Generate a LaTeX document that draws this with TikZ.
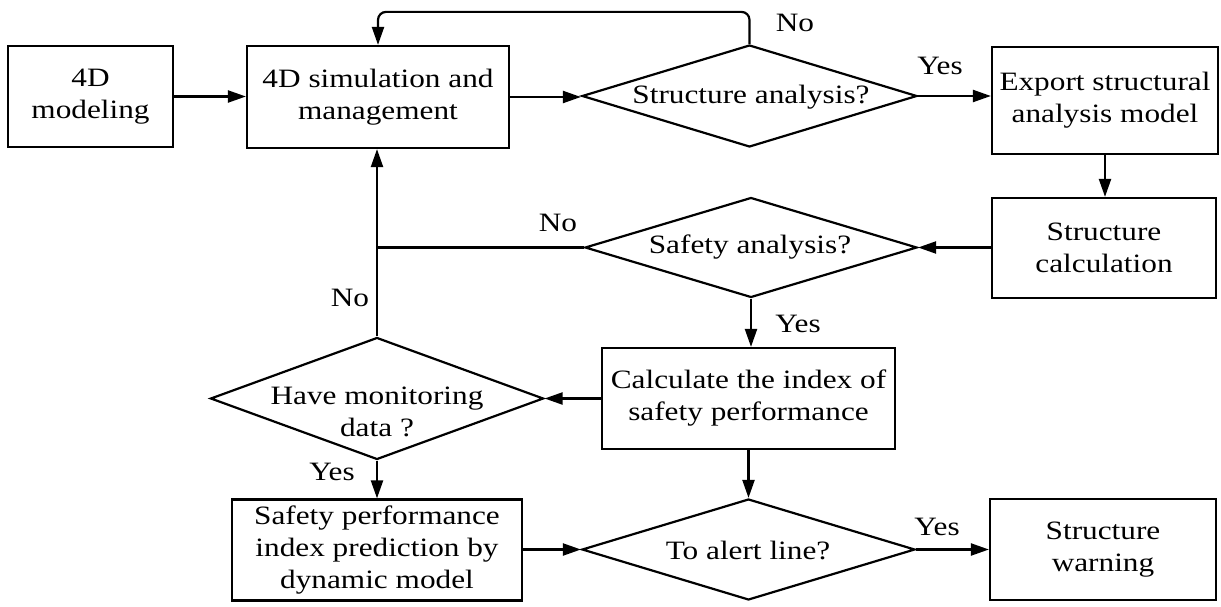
\documentclass[tikz,border=0pt]{standalone}
\usepackage{fontspec}
\setmainfont{Liberation Serif}[FakeStretch=1.18]
\usetikzlibrary{shapes.geometric,arrows.meta,calc}
\begin{document}
\begin{tikzpicture}[x=1pt,y=-1pt,
  every node/.style={font=\fontsize{26.5}{32}\selectfont},
  box/.style={draw,line width=2.2pt,rectangle,inner sep=0pt,align=center},
  dia/.style={draw,line width=2.2pt,diamond,inner sep=0pt},
  arr/.style={line width=2.2pt,-{Triangle[length=18pt,width=12pt]}},
  ln/.style={line width=2.2pt},
  lbl/.style={inner sep=0pt,align=center}]
\useasboundingbox (0,0) rectangle (1221,607);
% boxes and decisions
\node[box,minimum width=165pt,minimum height=101pt] (model) at (90.5,96.5) {4D\\modeling};
\node[box,minimum width=262pt,minimum height=102pt] (sim) at (378,97) {4D simulation and\\management};
\node[dia,minimum width=335pt,minimum height=102pt] (d1) at (749.5,96) {};
\node[lbl] (d1t) at (751,97) {Structure analysis?};
\node[box,minimum width=226pt,minimum height=107pt] (export) at (1105,100.5) {Export structural\\analysis model};
\node[box,minimum width=224pt,minimum height=100pt] (calc) at (1104,248) {Structure\\calculation};
\node[dia,minimum width=332pt,minimum height=100pt] (d2) at (751,247.5) {};
\node[lbl] (d2t) at (750,247) {Safety analysis?};
\node[box,minimum width=293pt,minimum height=101pt] (index) at (748.5,398.5) {Calculate the index of\\safety performance};
\node[dia,minimum width=333pt,minimum height=122pt] (mon) at (377,398.5) {};
\node[lbl] (mont) at (377,412) {Have monitoring\\data ?};
\node[box,minimum width=290pt,minimum height=101pt] (pred) at (377,550) {Safety performance\\index prediction by\\dynamic model};
\node[dia,minimum width=333pt,minimum height=101pt] (alert) at (748.5,549.5) {};
\node[lbl] (alertt) at (748,550) {To alert line?};
\node[box,minimum width=226pt,minimum height=101pt] (warn) at (1103,549.5) {Structure\\warning};
% connectors
\draw[arr] (model.east) -- (model.east -| sim.west);
\draw[arr] (sim.east) -- (sim.east -| d1.west);
\draw[arr,rounded corners=8pt] (d1.north) -- ++(0,-32) -| (sim.north);
\draw[arr] (d1.east) -- (d1.east -| export.west);
\draw[arr] (export.south) -- (export.south |- calc.north);
\draw[arr] (calc.west |- d2.east) -- (d2.east);
\draw[arr] (d2.south) -- (d2.south |- index.north);
\draw[ln] (d2.west) -- (d2.west -| mon.north);
\draw[arr] (mon.north) -- (mon.north |- sim.south);
\draw[arr] (index.west |- mon.east) -- (mon.east);
\draw[arr] (mon.south) -- (mon.south |- pred.north);
\draw[arr] (index.south) -- (index.south |- alert.north);
\draw[arr] (pred.east |- alert.west) -- (alert.west);
\draw[arr] (alert.east) -- (alert.east -| warn.west);
% labels
\node[lbl] (l1) at (795,23) {No};
\node[lbl] (l2) at (940,66) {Yes};
\node[lbl] (l3) at (558,223) {No};
\node[lbl] (l4) at (350,298) {No};
\node[lbl] (l5) at (798,324) {Yes};
\node[lbl] (l6) at (332,472) {Yes};
\node[lbl] (l7) at (937,527) {Yes};
\end{tikzpicture}
\end{document}
